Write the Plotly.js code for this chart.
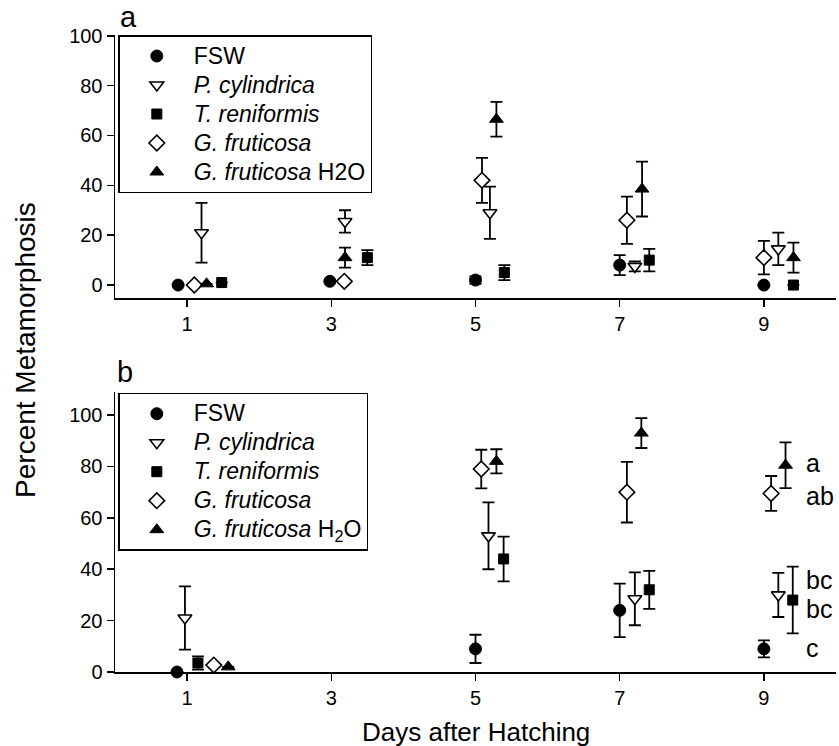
<!DOCTYPE html>
<html>
<head>
<meta charset="utf-8">
<script src="https://cdn.plot.ly/plotly-3.0.1.min.js"></script>
<style>
  html, body { margin: 0; padding: 0; background: #ffffff; }
  #chart { width: 839px; height: 746px; }
</style>
</head>
<body>
<div id="chart"></div>
<script>
// Sampling days (days after hatching)
const days = [1, 3, 5, 7, 9];
const dayTicks = ['1', '3', '5', '7', '9'];
const pctTicks = [0, 20, 40, 60, 80, 100];

// Series names
const seriesNames = ['FSW', 'P. cylindrica', 'T. reniformis', 'G. fruticosa', 'G. fruticosa'];

// Panel a: mean percent metamorphosis and error (one value per day)
const aFSW      = [0, 1.5, 2, 8, 0];
const aFSWErr   = [0, 0, 1.5, 4, 0];
const aPcyl     = [21, 25.5, 29, 7.5, 14.5];
const aPcylErr  = [12, 4.5, 10.5, 2, 6.5];
const aTren     = [1, 11, 5, 10, 0];
const aTrenErr  = [0, 3, 3, 4.5, 0];
const aGfru     = [0, 1.5, 42, 26, 11];
const aGfruErr  = [0, 0, 9, 9.5, 6.7];
const aGfruW    = [0.5, 11, 66.5, 38.5, 11];
const aGfruWErr = [0, 4, 7, 11, 6];

// Panel b: mean percent metamorphosis and error (no sample on day 3)
const bFSW      = [0, null, 9, 24, 9];
const bFSWErr   = [0, null, 5.5, 10.4, 3.3];
const bPcyl     = [21, null, 53, 28.5, 30];
const bPcylErr  = [12.3, null, 13, 10.3, 8.6];
const bTren     = [3.5, null, 44, 32, 28];
const bTrenErr  = [2.6, null, 8.7, 7.4, 13];
const bGfru     = [2.7, null, 79, 70, 69.5];
const bGfruErr  = [0, null, 7.5, 11.8, 6.8];
const bGfruW    = [2, null, 82, 93, 80.5];
const bGfruWErr = [0, null, 4.7, 5.8, 8.9];

// Significance groups at day 9 (panel b) and the level each label sits at
const groupLabels = ['a', 'ab', 'bc', 'bc', 'c'];
const groupLevels = [81.5, 68.5, 36, 24.5, 9.5];

// Horizontal dodge of each series around its day, so the error bars do not overlap
const dodgeA = {
  fsw:  [-0.125, -0.02, 0, 0, 0],
  pcyl: [0.2, 0.19, 0.2, 0.21, 0.2],
  tren: [0.48, 0.5, 0.4, 0.41, 0.41],
  gfru: [0.1, 0.18, 0.09, 0.1, 0],
  gfrw: [0.27, 0.19, 0.29, 0.31, 0.41]
};
const dodgeB = {
  fsw:  [-0.14, 0, 0, 0, 0],
  pcyl: [-0.03, 0.2, 0.18, 0.21, 0.2],
  tren: [0.15, 0.4, 0.39, 0.41, 0.4],
  gfru: [0.37, 0.1, 0.08, 0.1, 0.1],
  gfrw: [0.57, 0.3, 0.29, 0.3, 0.3]
};

const FONT = 'Liberation Sans, Arial, Helvetica, sans-serif';
const shift = (offs) => days.map((d, i) => d + offs[i]);
// legend entries are drawn a little larger than the row pitch the legend reserves
const big = (s) => '<span style="font-size:23px">' + s + '</span>';

const markerStyles = {
  fsw:  {symbol: 'circle', size: 12, color: '#000', line: {color: '#000', width: 1}},
  pcyl: {symbol: 'triangle-down', size: 12, color: '#fff', line: {color: '#000', width: 1.6}},
  tren: {symbol: 'square', size: 10, color: '#000', line: {color: '#000', width: 1}},
  gfru: {symbol: 'diamond', size: 12, color: '#fff', line: {color: '#000', width: 1.6}},
  gfrw: {symbol: 'triangle-up', size: 12, color: '#000', line: {color: '#000', width: 1}}
};

function series(key, name, x, y, err, xa, ya, legendId) {
  return {
    type: 'scatter', mode: 'markers', name: big(name),
    x: x, y: y, xaxis: xa, yaxis: ya, legend: legendId,
    marker: markerStyles[key],
    error_y: {type: 'data', array: err, visible: true, color: '#000', thickness: 1.8, width: 6},
    cliponaxis: false, hoverinfo: 'x+y'
  };
}

const it = (s) => '<i>' + s + '</i>';

const traces = [
  series('fsw',  seriesNames[0], shift(dodgeA.fsw),  aFSW,  aFSWErr,  'x', 'y', 'legend'),
  series('pcyl', it(seriesNames[1]), shift(dodgeA.pcyl), aPcyl, aPcylErr, 'x', 'y', 'legend'),
  series('tren', it(seriesNames[2]), shift(dodgeA.tren), aTren, aTrenErr, 'x', 'y', 'legend'),
  series('gfru', it(seriesNames[3]), shift(dodgeA.gfru), aGfru, aGfruErr, 'x', 'y', 'legend'),
  series('gfrw', it(seriesNames[4]) + ' H2O', shift(dodgeA.gfrw), aGfruW, aGfruWErr, 'x', 'y', 'legend'),

  series('fsw',  seriesNames[0], shift(dodgeB.fsw),  bFSW,  bFSWErr,  'x2', 'y2', 'legend2'),
  series('pcyl', it(seriesNames[1]), shift(dodgeB.pcyl), bPcyl, bPcylErr, 'x2', 'y2', 'legend2'),
  series('tren', it(seriesNames[2]), shift(dodgeB.tren), bTren, bTrenErr, 'x2', 'y2', 'legend2'),
  series('gfru', it(seriesNames[3]), shift(dodgeB.gfru), bGfru, bGfruErr, 'x2', 'y2', 'legend2'),
  series('gfrw', it(seriesNames[4]) + ' H<sub>2</sub>O', shift(dodgeB.gfrw), bGfruW, bGfruWErr, 'x2', 'y2', 'legend2')
];

const axisCommon = {
  showline: true, linecolor: '#000', linewidth: 1.5,
  ticks: 'outside', ticklen: 7, tickwidth: 1.5, tickcolor: '#000',
  showgrid: false, zeroline: false, mirror: false,
  tickfont: {family: FONT, size: 20, color: '#000'}
};

const legendCommon = {
  xanchor: 'left', yanchor: 'top',
  bgcolor: '#fff', bordercolor: '#000', borderwidth: 1.5,
  font: {family: FONT, size: 20, color: '#000'},
  itemwidth: 64, itemclick: false, itemdoubleclick: false
};

const annotations = [
  {text: 'a', xref: 'paper', yref: 'paper', x: 0.004, y: 1.0, xanchor: 'left', yanchor: 'bottom',
   showarrow: false, font: {family: FONT, size: 29, color: '#000'}},
  {text: 'b', xref: 'paper', yref: 'paper', x: 0.0, y: 0.4427, xanchor: 'left', yanchor: 'bottom',
   showarrow: false, font: {family: FONT, size: 29, color: '#000'}},
  {text: 'Percent Metamorphosis', xref: 'paper', yref: 'paper', x: -0.124, y: 0.505,
   xanchor: 'center', yanchor: 'middle', textangle: -90, showarrow: false,
   font: {family: FONT, size: 28, color: '#000'}},
  {text: 'Days after Hatching', xref: 'paper', yref: 'paper', x: 0.5, y: -0.094,
   xanchor: 'center', yanchor: 'middle', showarrow: false,
   font: {family: FONT, size: 26, color: '#000'}}
];
groupLabels.forEach((t, i) => {
  annotations.push({text: t, xref: 'x2', yref: 'y2', x: 9.55, y: groupLevels[i],
    xanchor: 'left', yanchor: 'middle', showarrow: false,
    font: {family: FONT, size: 25, color: '#000'}});
});

const layout = {
  width: 839, height: 746,
  margin: {l: 115, r: 3, t: 35, b: 74, pad: 0},
  paper_bgcolor: '#fff', plot_bgcolor: '#fff',
  font: {family: FONT, color: '#000'},
  showlegend: true,
  xaxis: Object.assign({}, axisCommon, {domain: [0, 1], range: [0, 10], anchor: 'y',
    tickvals: days, ticktext: dayTicks}),
  yaxis: Object.assign({}, axisCommon, {domain: [0.5871, 1], range: [-5.2, 100.3], anchor: 'x',
    tickvals: pctTicks}),
  xaxis2: Object.assign({}, axisCommon, {domain: [0, 1], range: [0, 10], anchor: 'y2',
    tickvals: days, ticktext: dayTicks}),
  yaxis2: Object.assign({}, axisCommon, {domain: [0, 0.4396], range: [0, 109], anchor: 'x2',
    tickvals: pctTicks}),
  legend: Object.assign({}, legendCommon, {x: 0.0046, y: 1.0}),
  legend2: Object.assign({}, legendCommon, {x: 0.0046, y: 0.4385}),
  annotations: annotations
};

Plotly.newPlot('chart', traces, layout, {displayModeBar: false, staticPlot: true});
</script>
</body>
</html>
